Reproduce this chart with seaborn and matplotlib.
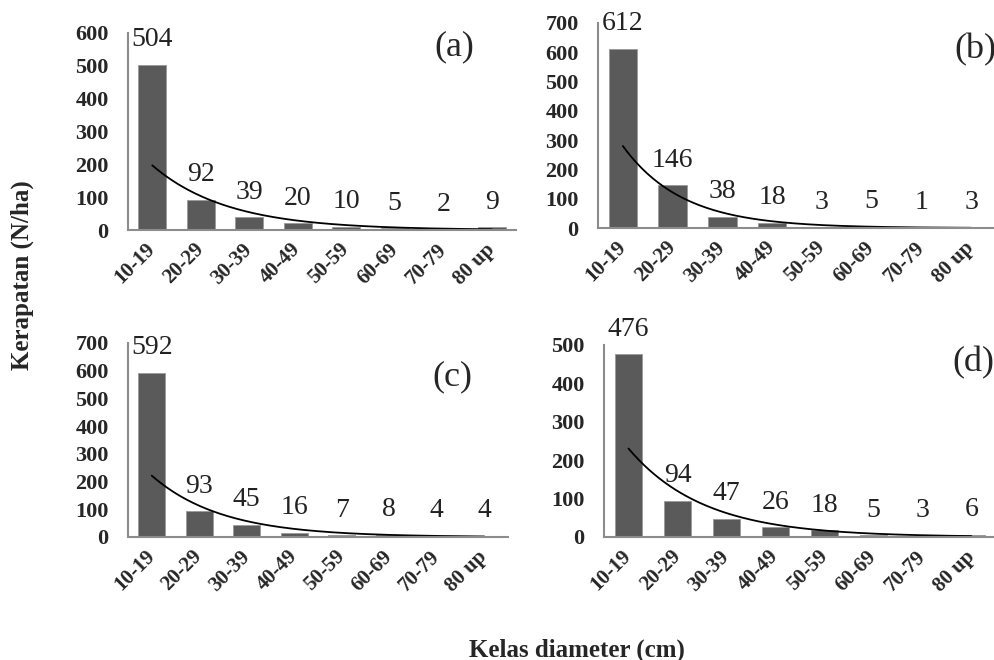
import numpy as np
import matplotlib
matplotlib.use("Agg")
import matplotlib.pyplot as plt
import seaborn as sns

sns.set_style('white')
plt.rcParams['font.family'] = ['Liberation Serif', 'DejaVu Serif']

categories = ["10-19", "20-29", "30-39", "40-49", "50-59", "60-69", "70-79", "80 up"]
dens_a = [504, 92, 39, 20, 10, 5, 2, 9]
dens_b = [612, 146, 38, 18, 3, 5, 1, 3]
dens_c = [592, 93, 45, 16, 7, 8, 4, 4]
dens_d = [476, 94, 47, 26, 18, 5, 3, 6]
panels = ["(a)", "(b)", "(c)", "(d)"]
ymax = [600, 700, 700, 500]

bar_color = '#5a5a5a'
spine_color = '#8c8c8c'

W, H = 995, 660
fig = plt.figure(figsize=(W / 100, H / 100), dpi=100)

def px_axes(left, top, right, bottom):
    # pixel box -> figure fraction
    return [left / W, 1 - bottom / H, (right - left) / W, (bottom - top) / H]

boxes = [px_axes(128, 33, 516, 230),
         px_axes(598, 23, 996, 228),
         px_axes(128, 343, 508, 537),
         px_axes(604, 345, 996, 537)]
label_pos = [(454, 47), (975, 50), (452, 377), (973, 363)]

for vals, box, top, lab, lpos in zip([dens_a, dens_b, dens_c, dens_d], boxes, ymax, panels, label_pos):
    ax = fig.add_axes(box)
    sns.barplot(x=categories, y=vals, ax=ax, color=bar_color, saturation=1,
                width=0.57, edgecolor='#9a9a9a', linewidth=0.6)
    # exponential trendline (least squares on log values)
    idx = np.arange(len(vals))
    b, a = np.polyfit(idx, np.log(vals), 1)
    xs = np.linspace(0, len(vals) - 1, 200)
    ax.plot(xs, np.exp(a + b * xs), color='black', lw=1.3)
    for i, v in enumerate(vals):
        ax.annotate(str(v), (i, v), xytext=(0, 9), textcoords='offset points',
                    ha='center', va='bottom', fontsize=20, color='#222222')
    ax.set_xlim(-0.5, len(vals) - 0.5)
    ax.set_ylim(0, top)
    ax.set_yticks(np.arange(0, top + 1, 100))
    sns.despine(ax=ax)
    for s in ['left', 'bottom']:
        ax.spines[s].set_color(spine_color)
        ax.spines[s].set_linewidth(1.5)
    ax.tick_params(axis='y', length=0, pad=14, labelsize=16)
    ax.tick_params(axis='x', length=0, pad=12, labelsize=15)
    for t in ax.get_yticklabels():
        t.set_fontweight('bold')
    for t in ax.get_xticklabels():
        t.set_fontweight('bold')
        t.set_rotation(45)
        t.set_ha('right')
        t.set_va('center')
        t.set_rotation_mode('anchor')
    ax.set_xlabel('')
    ax.set_ylabel('')
    fig.text(lpos[0] / W, 1 - lpos[1] / H, lab, ha='center', va='center', fontsize=26)

fig.text(577 / W, 1 - 650 / H, 'Kelas diameter (cm)', ha='center', va='center',
         fontsize=18, fontweight='bold')
fig.text(22 / W, 1 - 275 / H, 'Kerapatan (N/ha)', ha='center', va='center',
         rotation=90, fontsize=18, fontweight='bold')

fig.savefig('out.png', dpi=100)
